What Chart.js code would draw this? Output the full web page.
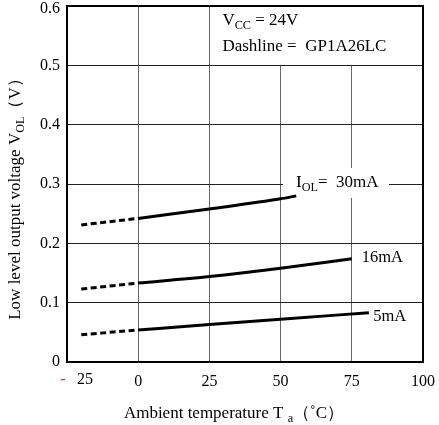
<!DOCTYPE html>
<html><head><meta charset="utf-8">
<script src="https://cdn.jsdelivr.net/npm/chart.js@4"></script>
<style>html,body{margin:0;padding:0;background:#fff}#w{width:439px;height:425px}</style>
</head><body><div id="w"><canvas id="c"></canvas></div>
<script>
const xTicks = [-25, 0, 25, 50, 75, 100];
const yTicks = [0, 0.1, 0.2, 0.3, 0.4, 0.5, 0.6];
const dashTemps = [-20, 0];
const dash30 = [0.231, 0.242];
const dash16 = [0.123, 0.133];
const dash5 = [0.046, 0.054];
const temps30 = [0, 25, 50, 55.5];
const v30 = [0.242, 0.258, 0.275, 0.280];
const temps16 = [0, 25, 50, 75];
const v16 = [0.133, 0.144, 0.158, 0.174];
const temps5 = [0, 25, 50, 81];
const v5 = [0.054, 0.0632, 0.0722, 0.083];
const seriesLabels = ['30mA', '16mA', '5mA'];

const FONT = '"Liberation Serif", "DejaVu Serif", serif';
const pts = (xs, ys) => xs.map((x, i) => ({x, y: ys[i]}));
const solid = (data) => ({data, borderColor: '#000', borderWidth: 3, pointRadius: 0, cubicInterpolationMode: 'monotone', fill: false});
const dashed = (data) => ({data, borderColor: '#000', borderWidth: 3, pointRadius: 0, borderDash: [6, 3.5], fill: false});

function drawParts(ctx, x, y, parts, size, align) {
  let w = 0;
  parts.forEach(p => { ctx.font = (p.sub ? size * 0.72 : size) + 'px ' + FONT; p.w = ctx.measureText(p.t).width; w += p.w; });
  let cx = align === 'center' ? x - w / 2 : (align === 'right' ? x - w : x);
  ctx.textBaseline = 'middle'; ctx.textAlign = 'left';
  parts.forEach(p => { ctx.font = (p.sub ? size * 0.72 : size) + 'px ' + FONT; ctx.fillText(p.t, cx, p.sub ? y + size * 0.28 : y); cx += p.w; });
  return w;
}

const deco = {
  id: 'deco',
  beforeDatasetsDraw(chart) {
    const {ctx, chartArea: a, scales: {x, y}} = chart;
    ctx.save();
    ctx.fillStyle = '#fff';
    ctx.fillRect(x.getPixelForValue(25) + 1, a.top, a.right - x.getPixelForValue(25) - 1, y.getPixelForValue(0.5) - a.top - 0.5);
    const lx = x.getPixelForValue(55.4), ly = y.getPixelForValue(0.3);
    ctx.fillRect(lx - 13, ly - 16, 106, 30);
    ctx.strokeStyle = '#000'; ctx.lineWidth = 2;
    ctx.strokeRect(a.left, a.top, a.right - a.left, a.bottom - a.top);
    ctx.fillStyle = '#000';
    const bx = x.getPixelForValue(25) + 13;
    drawParts(ctx, bx, a.top + 15, [{t: 'V'}, {t: 'CC', sub: true}, {t: ' = 24V'}], 17, 'left');
    drawParts(ctx, bx, a.top + 41, [{t: 'Dashline =  GP1A26LC'}], 17, 'left');
    ctx.restore();
  },
  afterDraw(chart) {
    const {ctx, chartArea: a, scales: {x, y}} = chart;
    ctx.save();
    ctx.fillStyle = '#000';
    drawParts(ctx, x.getPixelForValue(55.4), y.getPixelForValue(0.3) - 1, [{t: 'I'}, {t: 'OL', sub: true}, {t: '=  ' + seriesLabels[0]}], 17, 'left');
    drawParts(ctx, x.getPixelForValue(78.5), y.getPixelForValue(0.175), [{t: seriesLabels[1]}], 16.5, 'left');
    drawParts(ctx, x.getPixelForValue(82.5), y.getPixelForValue(0.077), [{t: seriesLabels[2]}], 16.5, 'left');
    drawParts(ctx, a.left - 7, y.getPixelForValue(0.6) + 3, [{t: yTicks[yTicks.length - 1].toFixed(1)}], 16, 'right');
    const ty = a.bottom + 18;
    ctx.font = '16px ' + FONT; ctx.textBaseline = 'middle'; ctx.textAlign = 'center';
    ctx.fillStyle = '#e03030';
    ctx.fillText('-', x.getPixelForValue(-25) - 4, ty);
    ctx.fillStyle = '#000';
    ctx.fillText('25', x.getPixelForValue(-25) + 18, ty);
    drawParts(ctx, 234, 414, [{t: 'Ambient temperature T '}, {t: 'a', sub: true}, {t: '（˚C）'}], 17, 'center');
    ctx.translate(16, 195); ctx.rotate(-Math.PI / 2);
    drawParts(ctx, 0, 0, [{t: 'Low level output voltage V'}, {t: 'OL', sub: true}, {t: '（V）'}], 17, 'center');
    ctx.restore();
  }
};

new Chart(document.getElementById('c'), {
  type: 'line',
  data: {datasets: [
    dashed(pts(dashTemps, dash30)), solid(pts(temps30, v30)),
    dashed(pts(dashTemps, dash16)), solid(pts(temps16, v16)),
    dashed(pts(dashTemps, dash5)), solid(pts(temps5, v5))
  ]},
  options: {
    responsive: true, maintainAspectRatio: false, animation: false,
    layout: {padding: {top: 6, right: 16, left: 0, bottom: 0}},
    plugins: {legend: {display: false}, tooltip: {enabled: false}},
    scales: {
      x: {type: 'linear', min: -25, max: 100,
        afterBuildTicks: s => { s.ticks = xTicks.map(v => ({value: v})); },
        afterFit: s => { s.height = 63; s.paddingLeft = 0; s.paddingRight = 0; },
        grid: {color: '#666', lineWidth: 1, drawTicks: false},
        border: {display: false},
        ticks: {color: '#000', padding: 10, font: {family: FONT, size: 16}, maxRotation: 0,
          callback: v => v === -25 ? '' : String(v)}
      },
      y: {type: 'linear', min: 0, max: 0.6,
        afterBuildTicks: s => { s.ticks = yTicks.map(v => ({value: v})); },
        afterFit: s => { s.width = 67; s.paddingTop = 0; s.paddingBottom = 0; },
        grid: {color: '#222', lineWidth: 1, drawTicks: false},
        border: {display: false},
        ticks: {color: '#000', padding: 7, font: {family: FONT, size: 16},
          callback: v => v === 0.6 ? '' : (v === 0 ? '0' : v.toFixed(1))}
      }
    }
  },
  plugins: [deco]
});
</script></body></html>
